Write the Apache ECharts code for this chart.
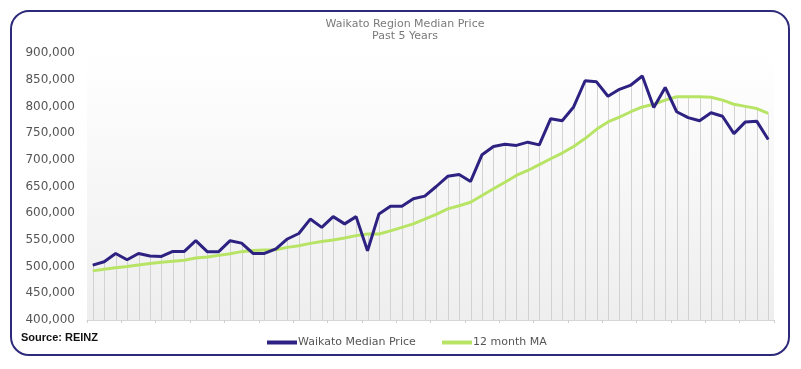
<!DOCTYPE html>
<html><head><meta charset="utf-8">
<script src="https://cdn.jsdelivr.net/npm/echarts@6/dist/echarts.min.js"></script>
<style>html,body{margin:0;padding:0;background:#fff}#c{width:801px;height:369px}</style>
</head><body><div id="c"></div>
<script>
var titleText = "Waikato Region Median Price";
var subTitleText = "Past 5 Years";
var sourceText = "Source: REINZ";
var seriesNames = ["Waikato Median Price", "12 month MA"];
var yTicks = [400000, 450000, 500000, 550000, 600000, 650000, 700000, 750000, 800000, 850000, 900000];
var categories = [];
for (var k = 1; k <= 60; k++) categories.push("M" + k);
var medianPrice = [
  502800, 509000, 524600, 512800, 524600, 520000, 519000, 528400, 528400, 548500,
  528000, 528000, 548500, 544000, 524600, 524600, 533000, 551700, 562000, 589000,
  573500, 593600, 580000, 593600, 529700, 598700, 613000, 613000, 627000, 632000,
  650000, 669000, 672600, 659500, 709600, 725000, 729000, 727000, 733000, 728000,
  777000, 773000, 799000, 848000, 846000, 819000, 832000, 840000, 857000, 798000,
  835600, 790000, 779000, 773000, 788000, 781600, 749000, 771000, 772000, 738000
];
var movingAvg = [
  492000, 495000, 498000, 500000, 503000, 506000, 508000, 510000, 512000, 516000,
  518000, 521000, 524000, 528000, 530000, 531000, 531600, 536000, 539000, 543500,
  547000, 550000, 553600, 558000, 561000, 561000, 567000, 573500, 580000, 589000,
  598000, 608000, 614000, 620500, 633000, 645700, 658000, 670700, 680000, 691000,
  702000, 712600, 725000, 739700, 757000, 771000, 780000, 790000, 799000, 804000,
  811700, 818000, 818000, 818000, 817000, 811700, 804000, 800000, 796000, 787000
];

var purple = "#2d2282";
var green = "#b8e466";
var dropData = categories.map(function (c, i) { return [i, Math.max(medianPrice[i], movingAvg[i])]; });
var yMin = yTicks[0], yMax = yTicks[yTicks.length - 1];

var chart = echarts.init(document.getElementById("c"), null, { renderer: "canvas" });
chart.setOption({
  animation: false,
  backgroundColor: "#ffffff",
  textStyle: { fontFamily: "DejaVu Sans" },
  title: {
    text: titleText + "\n" + subTitleText,
    left: 400, top: 13, textAlign: "center",
    textStyle: { fontFamily: "DejaVu Sans", fontSize: 11, fontWeight: "normal", color: "#7a7a7a", lineHeight: 12 }
  },
  legend: [
    { data: [seriesNames[0]], left: 262, top: 332, icon: "rect", itemWidth: 30, itemHeight: 4,
      textStyle: { fontFamily: "DejaVu Sans", fontSize: 11, color: "#555", padding: [0, 0, 0, -4] } },
    { data: [seriesNames[1]], left: 437, top: 332, icon: "rect", itemWidth: 30, itemHeight: 4,
      textStyle: { fontFamily: "DejaVu Sans", fontSize: 11, color: "#555", padding: [0, 0, 0, -4] } }
  ],
  grid: {
    left: 87, right: 27, top: 53, bottom: 49, show: true, borderWidth: 0,
    backgroundColor: new echarts.graphic.LinearGradient(0, 0, 0, 1, [
      { offset: 0, color: "#ffffff" }, { offset: 1, color: "#eeeeee" }
    ])
  },
  xAxis: {
    type: "category", data: categories, boundaryGap: true,
    axisLine: { show: true, lineStyle: { color: "#d6d6d6", width: 1 } },
    axisTick: { show: true, length: 3, lineStyle: { color: "#cfcfcf" } },
    axisLabel: { show: false },
    splitLine: { show: false }
  },
  yAxis: {
    type: "value", min: yMin, max: yMax, interval: 50000,
    axisLine: { show: false }, axisTick: { show: false },
    splitLine: { show: false },
    axisLabel: {
      margin: 12, fontFamily: "DejaVu Sans", fontSize: 12, color: "#555",
      formatter: function (v) { return v.toLocaleString("en-US"); }
    }
  },
  graphic: [
    { type: "rect", shape: { x: 11, y: 11, width: 778, height: 344, r: 18 },
      style: { fill: null, stroke: "#2e2a7a", lineWidth: 2 }, z: 100, silent: true },
    { type: "text", left: 21, top: 332,
      style: { text: sourceText, font: "bold 11px 'Liberation Sans'", fill: "#111" } }
  ],
  series: [
    {
      type: "custom", name: "drop", silent: true, z: 1,
      data: dropData,
      renderItem: function (params, api) {
        var top = api.coord([api.value(0), api.value(1)]);
        var bot = api.coord([api.value(0), yMin]);
        return { type: "line", shape: { x1: Math.round(top[0]) + 0.5, y1: top[1], x2: Math.round(bot[0]) + 0.5, y2: bot[1] },
          style: { stroke: "#d2d2d2", lineWidth: 1 } };
      }
    },
    { type: "line", name: seriesNames[1], data: movingAvg, showSymbol: false, symbol: "none", z: 3,
      lineStyle: { color: green, width: 3 }, itemStyle: { color: green } },
    { type: "line", name: seriesNames[0], data: medianPrice, showSymbol: false, symbol: "none", z: 4,
      lineStyle: { color: purple, width: 3 }, itemStyle: { color: purple } }
  ]
});
</script></body></html>
